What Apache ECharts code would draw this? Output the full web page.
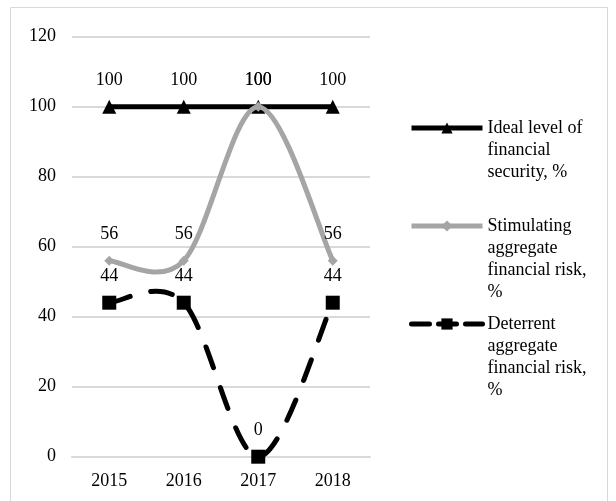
<!DOCTYPE html>
<html>
<head>
<meta charset="utf-8">
<script src="https://cdn.jsdelivr.net/npm/echarts@6/dist/echarts.min.js"></script>
<style>html,body{margin:0;padding:0;background:#fff}#c{width:616px;height:501px}</style>
</head>
<body>
<div id="c"></div>
<script>
const categories = ['2015', '2016', '2017', '2018'];
const idealLevel = [100, 100, 100, 100];
const stimulatingRisk = [56, 56, 100, 56];
const deterrentRisk = [44, 44, 0, 44];
const seriesNames = ['Ideal level of\nfinancial\nsecurity, %', 'Stimulating\naggregate\nfinancial risk,\n%', 'Deterrent\naggregate\nfinancial risk,\n%'];
const yTicks = { min: 0, max: 120, interval: 20 };

const FONT = 'Liberation Serif';
const GRAY = '#a5a5a5';
const chart = echarts.init(document.getElementById('c'), null, { renderer: 'canvas' });

function labelStyle(symbolSize) {
  return { show: true, position: 'top', distance: 17 - symbolSize / 2, color: '#000', fontFamily: FONT, fontSize: 18 };
}
function legendFor(name, top, lines) {
  return {
    show: true, data: [name], orient: 'vertical', left: 409, top: top, padding: 0,
    itemWidth: 71, itemHeight: 14, itemGap: 0, selectedMode: false,
    formatter: n => '\n'.repeat(lines - 1) + n,
    lineStyle: { opacity: 1, width: 5 },
    textStyle: { fontFamily: FONT, fontSize: 18, color: '#000', lineHeight: 22 }
  };
}
// Excel-style smoothed curve (Catmull-Rom Bezier) through points mapped by the axes
function smoothCurve(values, color, dash) {
  return {
    type: 'custom', name: 'curve', coordinateSystem: 'cartesian2d', clip: false, silent: true,
    data: values.map((v, i) => [i, v]),
    renderItem: function (params, api) {
      if (params.dataIndex !== 0) return null;
      const p = values.map((v, i) => api.coord([i, v]));
      let d = 'M' + p[0][0] + ' ' + p[0][1];
      for (let i = 0; i < p.length - 1; i++) {
        const p0 = p[i - 1] || p[i], p1 = p[i], p2 = p[i + 1], p3 = p[i + 2] || p[i + 1];
        const c1 = [p1[0] + (p2[0] - p0[0]) / 6, p1[1] + (p2[1] - p0[1]) / 6];
        const c2 = [p2[0] - (p3[0] - p1[0]) / 6, p2[1] - (p3[1] - p1[1]) / 6];
        d += ' C' + c1[0] + ' ' + c1[1] + ' ' + c2[0] + ' ' + c2[1] + ' ' + p2[0] + ' ' + p2[1];
      }
      return { type: 'path', shape: { pathData: d },
        style: { fill: 'none', stroke: color, lineWidth: 5, lineDash: dash || null, lineCap: 'round' } };
    }
  };
}
const stimCurve = smoothCurve(stimulatingRisk, GRAY, null); stimCurve.z = 3;
const detCurve = smoothCurve(deterrentRisk, '#000', [22, 21]); detCurve.z = 4;

chart.setOption({
  animation: false,
  backgroundColor: '#fff',
  graphic: [{ type: 'rect', shape: { x: 10.5, y: 7.5, width: 597, height: 510 }, style: { fill: 'none', stroke: '#d9d9d9', lineWidth: 1 }, silent: true }],
  grid: { left: 72, right: 246, top: 36.7, bottom: 44.3 },
  legend: [legendFor(seriesNames[0], 73, 3), legendFor(seriesNames[1], 149, 4), legendFor(seriesNames[2], 247, 4)],
  xAxis: {
    type: 'category', data: categories, boundaryGap: true,
    axisLine: { lineStyle: { color: '#d9d9d9', width: 2 } }, axisTick: { show: false },
    axisLabel: { color: '#000', fontFamily: FONT, fontSize: 18, margin: 16 }
  },
  yAxis: {
    type: 'value', min: yTicks.min, max: yTicks.max, interval: yTicks.interval,
    axisLine: { show: false }, axisTick: { show: false },
    splitLine: { lineStyle: { color: '#d9d9d9', width: 2 } },
    axisLabel: { color: '#000', fontFamily: FONT, fontSize: 18, margin: 16 }
  },
  series: [
    { name: seriesNames[0], type: 'line', data: idealLevel, symbol: 'triangle', symbolSize: 14,
      itemStyle: { color: '#000' }, lineStyle: { color: '#000', width: 5 }, label: labelStyle(14), z: 2 },
    stimCurve,
    { name: seriesNames[1], type: 'line', data: stimulatingRisk, symbol: 'diamond', symbolSize: 10,
      itemStyle: { color: GRAY }, lineStyle: { color: GRAY, width: 5, opacity: 0 }, label: labelStyle(10), z: 3 },
    detCurve,
    { name: seriesNames[2], type: 'line', data: deterrentRisk, symbol: 'rect', symbolSize: 14,
      itemStyle: { color: '#000' }, lineStyle: { color: '#000', width: 5, type: [18, 9], cap: 'round', opacity: 0 }, label: labelStyle(14), z: 4 }
  ]
});
</script>
</body>
</html>
